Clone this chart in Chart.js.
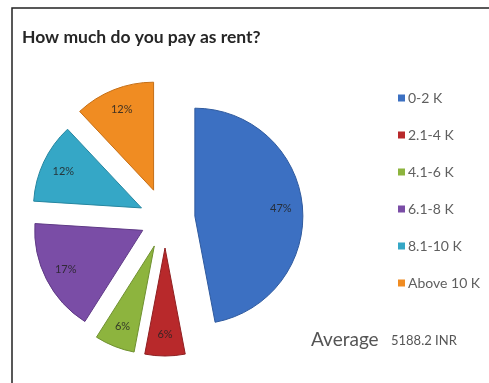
<!DOCTYPE html>
<html>
  <head>
    <meta charset="UTF-8">
    <title>How much do you pay as rent?</title>
    <script src="https://cdn.jsdelivr.net/npm/chart.js@4.4.0/dist/chart.umd.min.js"></script>
    <style>
      html, body { margin: 0; padding: 0; background: #fff; }
      canvas { display: block; }
    </style>
  </head>
  <body>
    <canvas id='rentChart' width='489' height='383'></canvas>

    <script>
      const rentBands = ['0-2 K', '2.1-4 K', '4.1-6 K', '6.1-8 K', '8.1-10 K', 'Above 10 K'];
      const rentShares = [47, 6, 6, 17, 12, 12];
      const averageRent = '5188.2 INR';

      const sliceColors = [
        '#3c70c2', // blue
        '#b8292b', // red
        '#8db43e', // green
        '#7a4da6', // purple
        '#35a7c6', // teal
        '#f08c22', // orange
      ];
      const sliceEdges = ['#2f5a9e', '#8f1f21', '#6f9030', '#5f3a85', '#2686a0', '#c56f17'];
      // how far each slice is pulled out from the centre, in px
      const explode = [30, 29, 29, 25, 26, 31];

      const ctx = document.getElementById('rentChart').getContext('2d');

      // move each slice outwards along its middle angle
      const explodePlugin = {
        id: 'explode',
        afterDatasetsUpdate(chart) {
          chart.getDatasetMeta(0).data.forEach((arc, i) => {
            let mid = (arc.startAngle + arc.endAngle) / 2;
            arc.x += Math.cos(mid) * explode[i];
            arc.y += Math.sin(mid) * explode[i];
          });
        }
      };

      // frame, percentage labels, legend and the average line
      const decorPlugin = {
        id: 'decor',
        beforeDraw(chart) {
          let c = chart.ctx;
          c.save();
          c.strokeStyle = '#222';
          c.lineWidth = 1.5;
          c.beginPath();
          c.moveTo(12, 383);
          c.lineTo(12, 8);
          c.lineTo(489, 8);
          c.stroke();
          c.restore();
        },
        afterDraw(chart) {
          let c = chart.ctx;
          let data = chart.data.datasets[0].data;
          let total = data.reduce((a, b) => a + b, 0);
          c.save();

          c.font = '11px Lato';
          c.fillStyle = 'rgba(35, 35, 35, 0.85)';
          c.textAlign = 'center';
          c.textBaseline = 'middle';
          chart.getDatasetMeta(0).data.forEach((arc, i) => {
            let mid = (arc.startAngle + arc.endAngle) / 2;
            let r = arc.outerRadius * 0.8;
            let pct = Math.round(data[i] / total * 100) + '%';
            c.fillText(pct, arc.x + Math.cos(mid) * r, arc.y + Math.sin(mid) * r);
          });

          c.textAlign = 'left';
          c.font = '14px Lato';
          chart.data.labels.forEach((label, i) => {
            let y = 98 + i * 37;
            c.fillStyle = sliceColors[i];
            c.fillRect(398, y - 3.5, 7, 7);
            c.fillStyle = '#5f5f5f';
            c.fillText(label, 408, y);
          });

          c.fillStyle = '#555';
          c.font = '19px Lato';
          c.fillText('Average', 311, 340);
          c.font = '13px Lato';
          c.fillText(averageRent, 391, 341);
          c.restore();
        }
      };

      new Chart(ctx, {
        type: 'pie',
        data: {
          labels: rentBands,
          datasets: [{
            data: rentShares,
            backgroundColor: sliceColors,
            borderColor: sliceEdges,
            borderWidth: 1,
            radius: 108,
            hoverOffset: 0
          }]
        },
        options: {
          responsive: false,
          animation: false,
          events: [],
          layout: {
            padding: { top: 27, left: 22, right: 181, bottom: 0 }
          },
          plugins: {
            legend: { display: false },
            tooltip: { enabled: false },
            title: {
              display: true,
              text: 'How much do you pay as rent?',
              align: 'start',
              color: '#262626',
              font: { family: 'Lato', size: 17.5, weight: 'bold' },
              padding: { top: 0, bottom: 7 }
            }
          }
        },
        plugins: [explodePlugin, decorPlugin]
      });
    </script>
  </body>
</html>
